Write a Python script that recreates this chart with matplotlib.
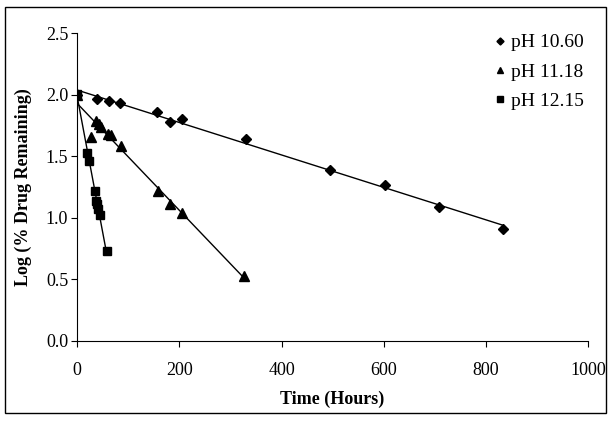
import matplotlib
matplotlib.use("Agg")
import matplotlib.pyplot as plt
import numpy as np
from matplotlib.patches import Rectangle

# pH 10.60
t_1060 = [0, 38, 62, 84, 157, 181, 206, 330, 495, 602, 708, 833]
y_1060 = [2.00, 1.97, 1.95, 1.93, 1.86, 1.78, 1.80, 1.64, 1.39, 1.27, 1.09, 0.91]
# pH 11.18
t_1118 = [0, 26, 37, 42, 47, 61, 67, 85, 158, 182, 205, 326]
y_1118 = [2.00, 1.66, 1.79, 1.76, 1.74, 1.68, 1.67, 1.58, 1.22, 1.11, 1.04, 0.53]
# pH 12.15
t_1215 = [0, 20, 23, 34, 37, 39, 41, 44, 58]
y_1215 = [2.01, 1.53, 1.46, 1.22, 1.14, 1.11, 1.07, 1.02, 0.73]

series = [
    ("pH 10.60", t_1060, y_1060, "D", 5.5),
    ("pH 11.18", t_1118, y_1118, "^", 7),
    ("pH 12.15", t_1215, y_1215, "s", 6),
]

plt.rcParams["font.family"] = ["Liberation Serif", "DejaVu Serif"]

fig = plt.figure(figsize=(6.1, 4.21), dpi=100)
ax = fig.add_axes([0.1267, 0.1907, 0.837, 0.730])

# linear trendline for each pH, drawn from t=0 to the last sample
for label, t, y, m, ms in series:
    t = np.array(t, float)
    y = np.array(y, float)
    k, b = np.polyfit(t, y, 1)
    xs = np.array([0, t.max()])
    ax.plot(xs, k * xs + b, color="black", lw=1.0, zorder=2)
    ax.plot(t, y, linestyle="none", marker=m, markersize=ms, color="black",
            label=label, zorder=3)

ax.set_xlim(0, 1000)
ax.set_ylim(0, 2.5)
ax.set_xticks(np.arange(0, 1001, 200))
ax.set_yticks(np.arange(0, 2.51, 0.5))
ax.yaxis.set_major_formatter(matplotlib.ticker.FormatStrFormatter("%.1f"))
ax.spines["top"].set_visible(False)
ax.spines["right"].set_visible(False)
ax.tick_params(direction="out", length=4.5, width=0.8, labelsize=13)
ax.tick_params(axis="x", pad=11)
ax.tick_params(axis="y", pad=2)
ax.set_xlabel("Time (Hours)", fontsize=13, fontweight="bold", labelpad=8)
ax.set_ylabel("Log (% Drug Remaining)", fontsize=13, fontweight="bold", labelpad=10)

ax.legend(loc="upper left", bbox_to_anchor=(0.798, 0.938), bbox_transform=fig.transFigure,
          frameon=False, fontsize=14, handletextpad=0.22, handlelength=0.6,
          labelspacing=0.6, borderaxespad=0, markerscale=0.65)

fig.patches.append(Rectangle((0.0082, 0.019), 0.985, 0.964, transform=fig.transFigure,
                             fill=False, edgecolor="black", lw=1.0))

fig.savefig("out.png", dpi=100)
